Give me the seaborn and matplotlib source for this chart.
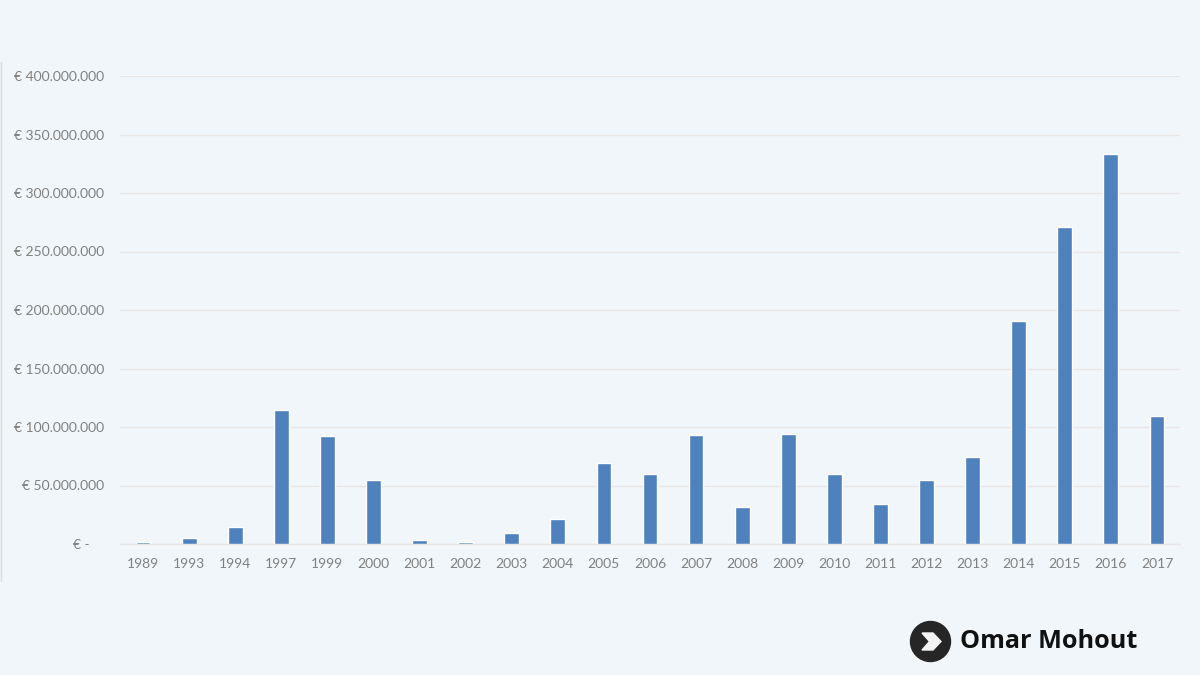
import matplotlib
matplotlib.use('Agg')
import matplotlib.pyplot as plt
from matplotlib.lines import Line2D
from matplotlib.patches import Circle, Polygon
import pandas as pd
import seaborn as sns

years = ['1989', '1993', '1994', '1997', '1999', '2000', '2001', '2002', '2003', '2004', '2005', '2006',
         '2007', '2008', '2009', '2010', '2011', '2012', '2013', '2014', '2015', '2016', '2017']
amounts = [2, 5, 14.5, 114.5, 92.5, 54.5, 3.5, 1.6, 9, 21.5, 69.5, 59.5,
           93.5, 32, 94, 59.5, 34.5, 55, 74.5, 191, 271, 333, 109]
ytick_values = [0, 50, 100, 150, 200, 250, 300, 350, 400]
ytick_labels = ['€ -    ', '€ 50.000.000', '€ 100.000.000', '€ 150.000.000', '€ 200.000.000',
                '€ 250.000.000', '€ 300.000.000', '€ 350.000.000', '€ 400.000.000']
brand = 'Omar Mohout'

bg = '#f1f6fa'
df = pd.DataFrame({'year': years, 'amount': amounts})

sns.set_theme(style='white', rc={'figure.facecolor': bg, 'axes.facecolor': bg})
plt.rcParams['font.family'] = ['Lato', 'DejaVu Sans']

W, H = 1200, 675
fig = plt.figure(figsize=(12, 6.75), dpi=100)
ax = fig.add_axes([120 / W, 1 - 544 / H, 1060 / W, 468 / H])

sns.barplot(data=df, x='year', y='amount', color='#4f81bd', saturation=1, width=0.32, ax=ax, zorder=3)

ax.set_xlim(-0.5, len(years) - 0.5)
ax.set_ylim(0, 400)
ax.set_yticks(ytick_values)
ax.set_yticklabels(ytick_labels)
ax.set_xlabel('')
ax.set_ylabel('')
ax.grid(axis='y', color='#e9e6e6', linewidth=1)
ax.tick_params(axis='both', length=0, labelsize=10, labelcolor='#808080')
ax.tick_params(axis='x', pad=10)
ax.tick_params(axis='y', pad=11.5)
for side in ['top', 'right', 'left']:
    ax.spines[side].set_visible(False)
ax.spines['bottom'].set_color('#e6e6e6')
ax.spines['bottom'].set_linewidth(1)

# thin edge left over from the pasted screenshot
fig.add_artist(Line2D([0.5 / W, 0.5 / W], [1 - 62 / H, 1 - 581 / H], color='#dcdcdc', linewidth=1,
                      transform=fig.transFigure))

# logo, placed in pixels
def px(x, y):
    return x, H - y

fig.add_artist(Circle(px(930.5, 641.5), 20, color='#262626', transform=None))
chevron = [px(922, 633), px(933, 633), px(941, 641.5), px(933, 650), px(922, 650), px(929.5, 641.5)]
fig.add_artist(Polygon(chevron, closed=True, color='#f4f4f4', transform=None))
fig.text(960 / W, 1 - 641 / H, brand, fontsize=18.2, fontweight='bold', color='#111111',
         family=['Open Sans', 'DejaVu Sans'], va='center', ha='left')

fig.savefig('out.png', dpi=100, facecolor=bg)
